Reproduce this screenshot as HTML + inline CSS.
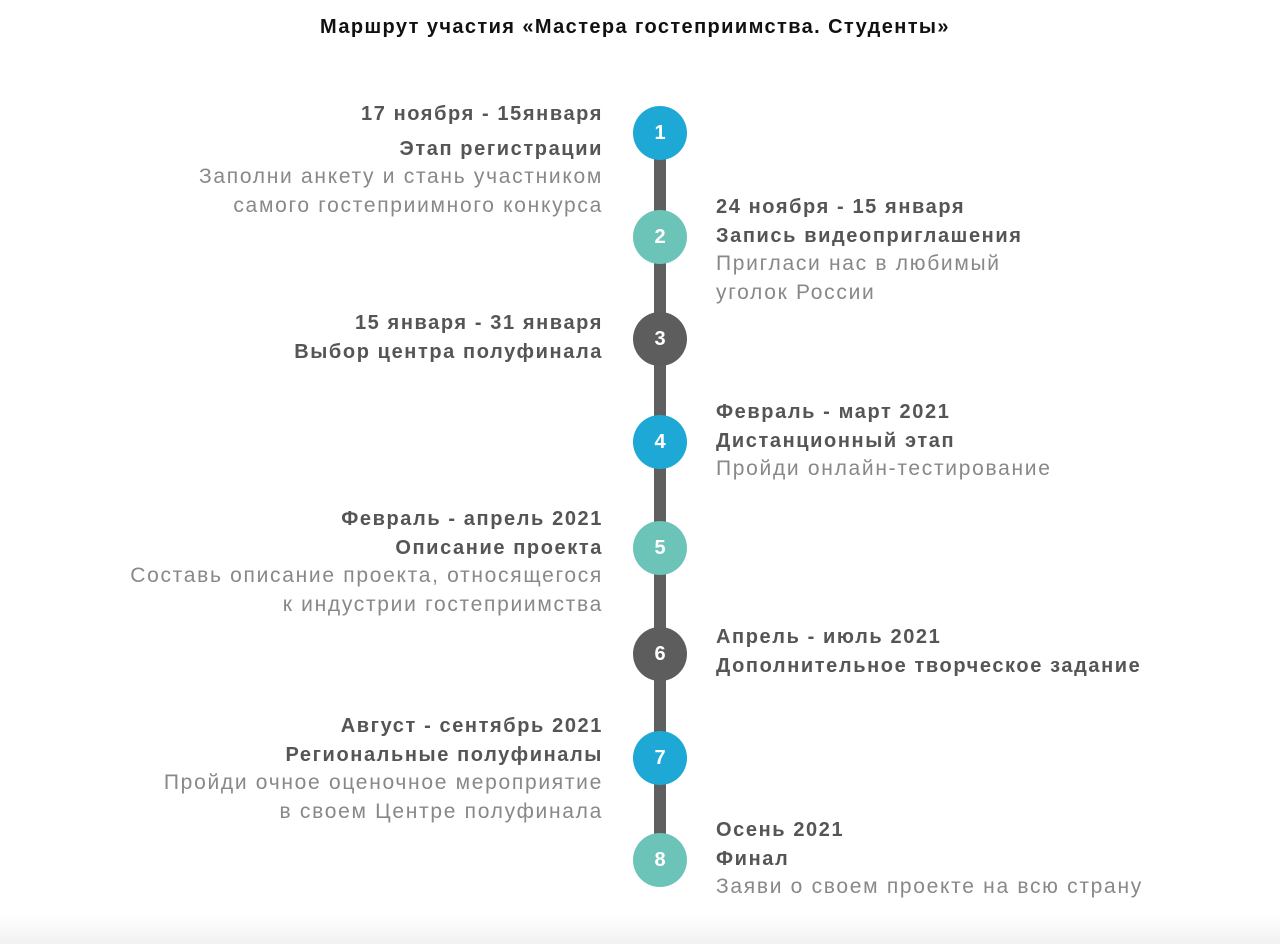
<!DOCTYPE html>
<html><head><meta charset="utf-8"><style>
body{margin:0;width:1280px;height:944px;background:#fff;position:relative;overflow:hidden;font-family:"Liberation Sans",sans-serif}
.t{position:absolute;left:0;width:1270px;text-align:center;top:13px;font-size:20px;font-weight:bold;color:#111;line-height:28px;letter-spacing:1.4px}
.bar{position:absolute;left:654px;top:133px;width:12px;height:727px;background:#5f5f5f}
.c{position:absolute;width:54px;height:54px;border-radius:50%;left:633px;color:#fff;font-weight:bold;font-size:20px;line-height:54px;text-align:center}
.bl{background:#1da8d5}.tl{background:#6cc4b8}.dk{background:#5d5d5d}
.L,.R{position:absolute;line-height:28.5px;white-space:nowrap}
.L{right:677px;text-align:right}.R{left:716px}
b{display:block;font-size:20px;color:#555;letter-spacing:1.6px}
span{display:block;font-size:21px;color:#888;letter-spacing:1.7px}
.bot{position:absolute;left:0;top:915px;width:1280px;height:29px;background:linear-gradient(#fff,#f1f1f1)}
</style></head><body>
<div class="t">Маршрут участия «Мастера гостеприимства. Студенты»</div>
<div class="bar"></div>
<div class="c bl" style="top:106px">1</div>
<div class="c tl" style="top:210px">2</div>
<div class="c dk" style="top:312px">3</div>
<div class="c bl" style="top:415px">4</div>
<div class="c tl" style="top:521px">5</div>
<div class="c dk" style="top:627px">6</div>
<div class="c bl" style="top:731px">7</div>
<div class="c tl" style="top:833px">8</div>

<div class="L" style="top:100px"><b>17 ноября - 15января</b><b style="margin-top:6px">Этап регистрации</b><span>Заполни анкету и стань участником</span><span>самого гостеприимного конкурса</span></div>
<div class="R" style="top:193px"><b>24 ноября - 15 января</b><b>Запись видеоприглашения</b><span>Пригласи нас в любимый</span><span>уголок России</span></div>
<div class="L" style="top:309px"><b>15 января - 31 января</b><b>Выбор центра полуфинала</b></div>
<div class="R" style="top:398px"><b>Февраль - март 2021</b><b>Дистанционный этап</b><span>Пройди онлайн-тестирование</span></div>
<div class="L" style="top:505px"><b>Февраль - апрель 2021</b><b>Описание проекта</b><span>Составь описание проекта, относящегося</span><span>к индустрии гостеприимства</span></div>
<div class="R" style="top:623px"><b>Апрель - июль 2021</b><b>Дополнительное творческое задание</b></div>
<div class="L" style="top:712px"><b>Август - сентябрь 2021</b><b>Региональные полуфиналы</b><span>Пройди очное оценочное мероприятие</span><span>в своем Центре полуфинала</span></div>
<div class="R" style="top:816px"><b>Осень 2021</b><b>Финал</b><span>Заяви о своем проекте на всю страну</span></div>
<div class="bot"></div>
</body></html>
